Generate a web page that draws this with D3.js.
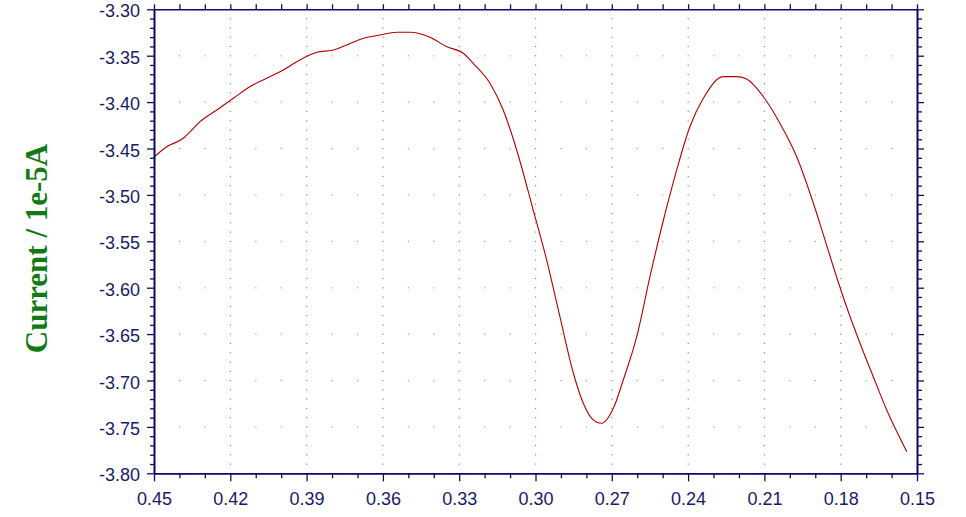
<!DOCTYPE html>
<html>
<head>
<meta charset="utf-8">
<script src="https://cdn.jsdelivr.net/npm/d3@7"></script>
<style>
  html, body { margin: 0; padding: 0; background: #fff; }
  svg { display: block; }
</style>
</head>
<body>
<svg id="chart" width="966" height="517"></svg>
<script>
// ---- Data ----
const potential = [0.4500, 0.4450, 0.4385, 0.4352, 0.4319, 0.4253, 0.4188, 0.4123, 0.4057, 0.3992,
  0.3939, 0.3860, 0.3795, 0.3742, 0.3677, 0.3611, 0.3546, 0.3493, 0.3415, 0.3349,
  0.3284, 0.3245, 0.3179, 0.3127, 0.3074, 0.3009, 0.2956, 0.2904, 0.2851, 0.2812,
  0.2779, 0.2740, 0.2694, 0.2655, 0.2602, 0.2550, 0.2495, 0.2445, 0.2393, 0.2340,
  0.2262, 0.2209, 0.2170, 0.2104, 0.2039, 0.1973, 0.1901, 0.1882, 0.1829, 0.1777,
  0.1724, 0.1672, 0.1619, 0.1540];
const current = [-3.4592, -3.4481, -3.4390, -3.4301, -3.4211, -3.4085, -3.3959, -3.3834, -3.3744, -3.3654,
  -3.3565, -3.3463, -3.3439, -3.3385, -3.3313, -3.3277, -3.3248, -3.3248, -3.3302, -3.3403,
  -3.3474, -3.3582, -3.3797, -3.4085, -3.4516, -3.5163, -3.5702, -3.6313, -3.6922, -3.7246,
  -3.7407, -3.7461, -3.7300, -3.6995, -3.6528, -3.5881, -3.5249, -3.4732, -3.4265, -3.3959,
  -3.3726, -3.3726, -3.3751, -3.3942, -3.4228, -3.4588, -3.5144, -3.5306, -3.5774, -3.6205,
  -3.6599, -3.6959, -3.7318, -3.7767];
const xTicks = [0.45, 0.42, 0.39, 0.36, 0.33, 0.30, 0.27, 0.24, 0.21, 0.18, 0.15];
const yTicks = [-3.30, -3.35, -3.40, -3.45, -3.50, -3.55, -3.60, -3.65, -3.70, -3.75, -3.80];
const yLabel = "Current / 1e-5A";

// ---- Layout ----
const L = 154, R = 917, T = 9.3, B = 473.3;
const axisColor = "#0c0c66";
const textColor = "#1a1a6a";

const svg = d3.select("#chart");
const x = d3.scaleLinear().domain([0.45, 0.15]).range([L, R]);
const y = d3.scaleLinear().domain([-3.80, -3.30]).range([B, T]);

// minor ticks
const xMinor = d3.range(0, 31).map(i => +(0.45 - i * 0.01).toFixed(2));
const yMinor = d3.range(0, 51).map(i => +(-3.80 + i * 0.01).toFixed(2));
const isMajorX = v => xTicks.some(t => Math.abs(t - v) < 1e-6);
const isMajorY = v => yTicks.some(t => Math.abs(t - v) < 1e-6);

// ---- Grid (dotted) ----
const grid = svg.append("g").attr("fill", "#8a8a8a");
xTicks.filter(v => v !== 0.45 && v !== 0.15).forEach(xv => {
  yMinor.forEach(yv => {
    if (yv === -3.80 || yv === -3.30) return;
    grid.append("rect").attr("x", x(xv) - 0.5).attr("y", y(yv) - 0.5).attr("width", 1.2).attr("height", 1.2);
  });
});
yTicks.filter(v => v !== -3.30 && v !== -3.80).forEach(yv => {
  xMinor.forEach(xv => {
    if (isMajorX(xv)) return;
    grid.append("rect").attr("x", x(xv) - 0.5).attr("y", y(yv) - 0.5).attr("width", 1.2).attr("height", 1.2)
      .attr("fill", "#a0a0a0");
  });
});

// ---- Curve ----
const data = potential.map((p, i) => [p, current[i]]);
svg.append("path")
  .datum(data)
  .attr("fill", "none")
  .attr("stroke", "#b80000")
  .attr("stroke-width", 1.1)
  .attr("d", d3.line().x(d => x(d[0])).y(d => y(d[1])).curve(d3.curveMonotoneX));

// ---- Axes ----
function styleAxis(g) {
  g.select(".domain").attr("stroke", axisColor).attr("stroke-width", 1.6);
  g.selectAll(".tick line").attr("stroke", axisColor).attr("stroke-width", 1.3);
  g.selectAll("text").attr("fill", textColor)
    .attr("font-family", "'Liberation Sans', Arial, sans-serif")
    .attr("font-size", "18px");
}
const fmt = d => d.toFixed(2);

// bottom
svg.append("g").attr("transform", `translate(0,${B})`)
  .call(d3.axisBottom(x).tickValues(xMinor.filter(v => !isMajorX(v))).tickSize(5).tickSizeOuter(0).tickFormat(""))
  .call(styleAxis);
svg.append("g").attr("transform", `translate(0,${B})`)
  .call(d3.axisBottom(x).tickValues(xTicks).tickSize(8).tickSizeOuter(0).tickPadding(11).tickFormat(fmt))
  .call(styleAxis);
// top
svg.append("g").attr("transform", `translate(0,${T})`)
  .call(d3.axisTop(x).tickValues(xMinor).tickSize(5).tickSizeOuter(0).tickFormat(""))
  .call(styleAxis);
// left
svg.append("g").attr("transform", `translate(${L},0)`)
  .call(d3.axisLeft(y).tickValues(yMinor.filter(v => !isMajorY(v))).tickSize(4).tickSizeOuter(0).tickFormat(""))
  .call(styleAxis);
svg.append("g").attr("transform", `translate(${L},0)`)
  .call(d3.axisLeft(y).tickValues(yTicks).tickSize(7).tickSizeOuter(0).tickPadding(7).tickFormat(fmt))
  .call(styleAxis)
  .call(g => g.selectAll("text").attr("dy", "0.42em"));
// right
svg.append("g").attr("transform", `translate(${R},0)`)
  .call(d3.axisRight(y).tickValues(yMinor.filter(v => !isMajorY(v))).tickSize(5).tickSizeOuter(0).tickFormat(""))
  .call(styleAxis);
svg.append("g").attr("transform", `translate(${R},0)`)
  .call(d3.axisRight(y).tickValues(yTicks).tickSize(7).tickSizeOuter(0).tickFormat(""))
  .call(styleAxis);

// ---- Y label ----
svg.append("text")
  .attr("transform", `translate(47,${(140 + 357) / 2}) rotate(-90)`)
  .attr("text-anchor", "middle")
  .attr("font-family", "'Liberation Serif', 'Times New Roman', serif")
  .attr("font-weight", "bold")
  .attr("font-size", "31px")
  .attr("fill", "#127a12")
  .text(yLabel);
</script>
</body>
</html>
